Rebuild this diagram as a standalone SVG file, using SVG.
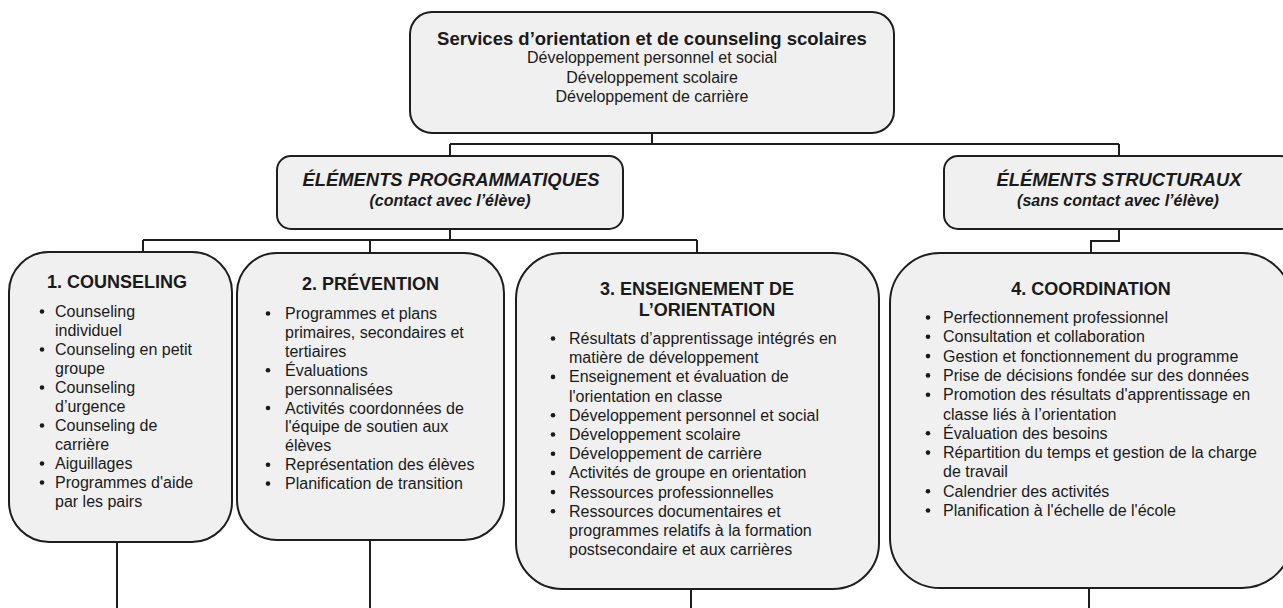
<svg xmlns="http://www.w3.org/2000/svg" width="1283" height="608" viewBox="0 0 1283 608">
<style>
.box{fill:#f0f0f0;stroke:#1e1e1e;stroke-width:2}
.con{fill:none;stroke:#1e1e1e;stroke-width:2}
text{font-family:"Liberation Sans",Arial,sans-serif;fill:#1a1a1a}
.t{font-weight:bold;font-size:18.5px;text-anchor:middle}
.s{font-size:16px;text-anchor:middle}
.hi{font-weight:bold;font-style:italic;font-size:18.4px;text-anchor:middle}
.si{font-weight:bold;font-style:italic;font-size:16px;text-anchor:middle}
.h{font-weight:bold;font-size:18px;text-anchor:middle}
.li{font-size:16px}
.b{fill:#1a1a1a}
</style>
<rect width="1283" height="608" fill="#ffffff"/>
<g id="connectors">
<path class="con" d="M652 133V144M450 144H1119M450 144V156M1119 144V156M450 229V240M143 240H697M143 240V252M370 240V253M697 240V253M1119 229V241H1091V253M117 542V608M370 540V608M691 589V608M1089 588V608"/>
</g>
<g id="root">
<rect class="box" x="410" y="12" width="484" height="121" rx="22"/>
<text class="t" x="652" y="45">Services d’orientation et de counseling scolaires</text>
<text class="s" x="652" y="63">Développement personnel et social</text>
<text class="s" x="652" y="83">Développement scolaire</text>
<text class="s" x="652" y="102">Développement de carrière</text>
</g>
<g id="programmatiques">
<rect class="box" x="277" y="156" width="346" height="73" rx="14"/>
<text class="hi" x="451" y="186">ÉLÉMENTS PROGRAMMATIQUES</text>
<text class="si" x="450" y="206">(contact avec l’élève)</text>
</g>
<g id="structuraux">
<rect class="box" x="944" y="156" width="350" height="73" rx="14"/>
<text class="hi" x="1119" y="186">ÉLÉMENTS STRUCTURAUX</text>
<text class="si" x="1118" y="206">(sans contact avec l’élève)</text>
</g>
<g id="counseling">
<rect class="box" x="9" y="252" width="223" height="290" rx="40"/>
<text class="h" x="117" y="288">1. COUNSELING</text>
<g class="b"><circle cx="42" cy="311.5" r="2.3"/><circle cx="42" cy="349.5" r="2.3"/><circle cx="42" cy="387.5" r="2.3"/><circle cx="42" cy="425.5" r="2.3"/><circle cx="42" cy="463.5" r="2.3"/><circle cx="42" cy="482.5" r="2.3"/></g>
<text class="li"><tspan x="55" y="317">Counseling</tspan><tspan x="55" y="336">individuel</tspan><tspan x="55" y="355">Counseling en petit</tspan><tspan x="55" y="374">groupe</tspan><tspan x="55" y="393">Counseling</tspan><tspan x="55" y="412">d’urgence</tspan><tspan x="55" y="431">Counseling de</tspan><tspan x="55" y="450">carrière</tspan><tspan x="55" y="469">Aiguillages</tspan><tspan x="55" y="488">Programmes d'aide</tspan><tspan x="55" y="507">par les pairs</tspan></text>
</g>
<g id="prevention">
<rect class="box" x="237" y="253" width="267" height="287" rx="40"/>
<text class="h" x="370.5" y="290">2. PRÉVENTION</text>
<g class="b"><circle cx="268" cy="313.5" r="2.3"/><circle cx="268" cy="370.2" r="2.3"/><circle cx="268" cy="408" r="2.3"/><circle cx="268" cy="464.7" r="2.3"/><circle cx="268" cy="483.6" r="2.3"/></g>
<text class="li"><tspan x="285" y="319">Programmes et plans</tspan><tspan x="285" y="337.9">primaires, secondaires et</tspan><tspan x="285" y="356.8">tertiaires</tspan><tspan x="285" y="375.7">Évaluations</tspan><tspan x="285" y="394.6">personnalisées</tspan><tspan x="285" y="413.5">Activités coordonnées de</tspan><tspan x="285" y="432.4">l'équipe de soutien aux</tspan><tspan x="285" y="451.3">élèves</tspan><tspan x="285" y="470.2">Représentation des élèves</tspan><tspan x="285" y="489.1">Planification de transition</tspan></text>
</g>
<g id="enseignement">
<rect class="box" x="516" y="253" width="363" height="336" rx="46"/>
<text class="h" x="697" y="295">3. ENSEIGNEMENT DE</text>
<text class="h" x="707" y="316">L’ORIENTATION</text>
<g class="b"><circle cx="553" cy="338.5" r="2.3"/><circle cx="553" cy="376.9" r="2.3"/><circle cx="553" cy="415.3" r="2.3"/><circle cx="553" cy="434.5" r="2.3"/><circle cx="553" cy="453.7" r="2.3"/><circle cx="553" cy="472.9" r="2.3"/><circle cx="553" cy="492.1" r="2.3"/><circle cx="553" cy="511.3" r="2.3"/></g>
<text class="li"><tspan x="569" y="344">Résultats d’apprentissage intégrés en</tspan><tspan x="569" y="363.2">matière de développement</tspan><tspan x="569" y="382.4">Enseignement et évaluation de</tspan><tspan x="569" y="401.6">l'orientation en classe</tspan><tspan x="569" y="420.8">Développement personnel et social</tspan><tspan x="569" y="440">Développement scolaire</tspan><tspan x="569" y="459.2">Développement de carrière</tspan><tspan x="569" y="478.4">Activités de groupe en orientation</tspan><tspan x="569" y="497.6">Ressources professionnelles</tspan><tspan x="569" y="516.8">Ressources documentaires et</tspan><tspan x="569" y="536">programmes relatifs à la formation</tspan><tspan x="569" y="555.2">postsecondaire et aux carrières</tspan></text>
</g>
<g id="coordination">
<rect class="box" x="890" y="253" width="402" height="335" rx="50"/>
<text class="h" x="1091" y="295">4. COORDINATION</text>
<g class="b"><circle cx="928" cy="317.5" r="2.3"/><circle cx="928" cy="336.8" r="2.3"/><circle cx="928" cy="356.1" r="2.3"/><circle cx="928" cy="375.4" r="2.3"/><circle cx="928" cy="394.7" r="2.3"/><circle cx="928" cy="433.3" r="2.3"/><circle cx="928" cy="452.6" r="2.3"/><circle cx="928" cy="491.2" r="2.3"/><circle cx="928" cy="510.5" r="2.3"/></g>
<text class="li"><tspan x="943" y="323">Perfectionnement professionnel</tspan><tspan x="943" y="342.3">Consultation et collaboration</tspan><tspan x="943" y="361.6">Gestion et fonctionnement du programme</tspan><tspan x="943" y="380.9">Prise de décisions fondée sur des données</tspan><tspan x="943" y="400.2">Promotion des résultats d'apprentissage en</tspan><tspan x="943" y="419.5">classe liés à l’orientation</tspan><tspan x="943" y="438.8">Évaluation des besoins</tspan><tspan x="943" y="458.1">Répartition du temps et gestion de la charge</tspan><tspan x="943" y="477.4">de travail</tspan><tspan x="943" y="496.7">Calendrier des activités</tspan><tspan x="943" y="516">Planification à l'échelle de l'école</tspan></text>
</g>
</svg>
